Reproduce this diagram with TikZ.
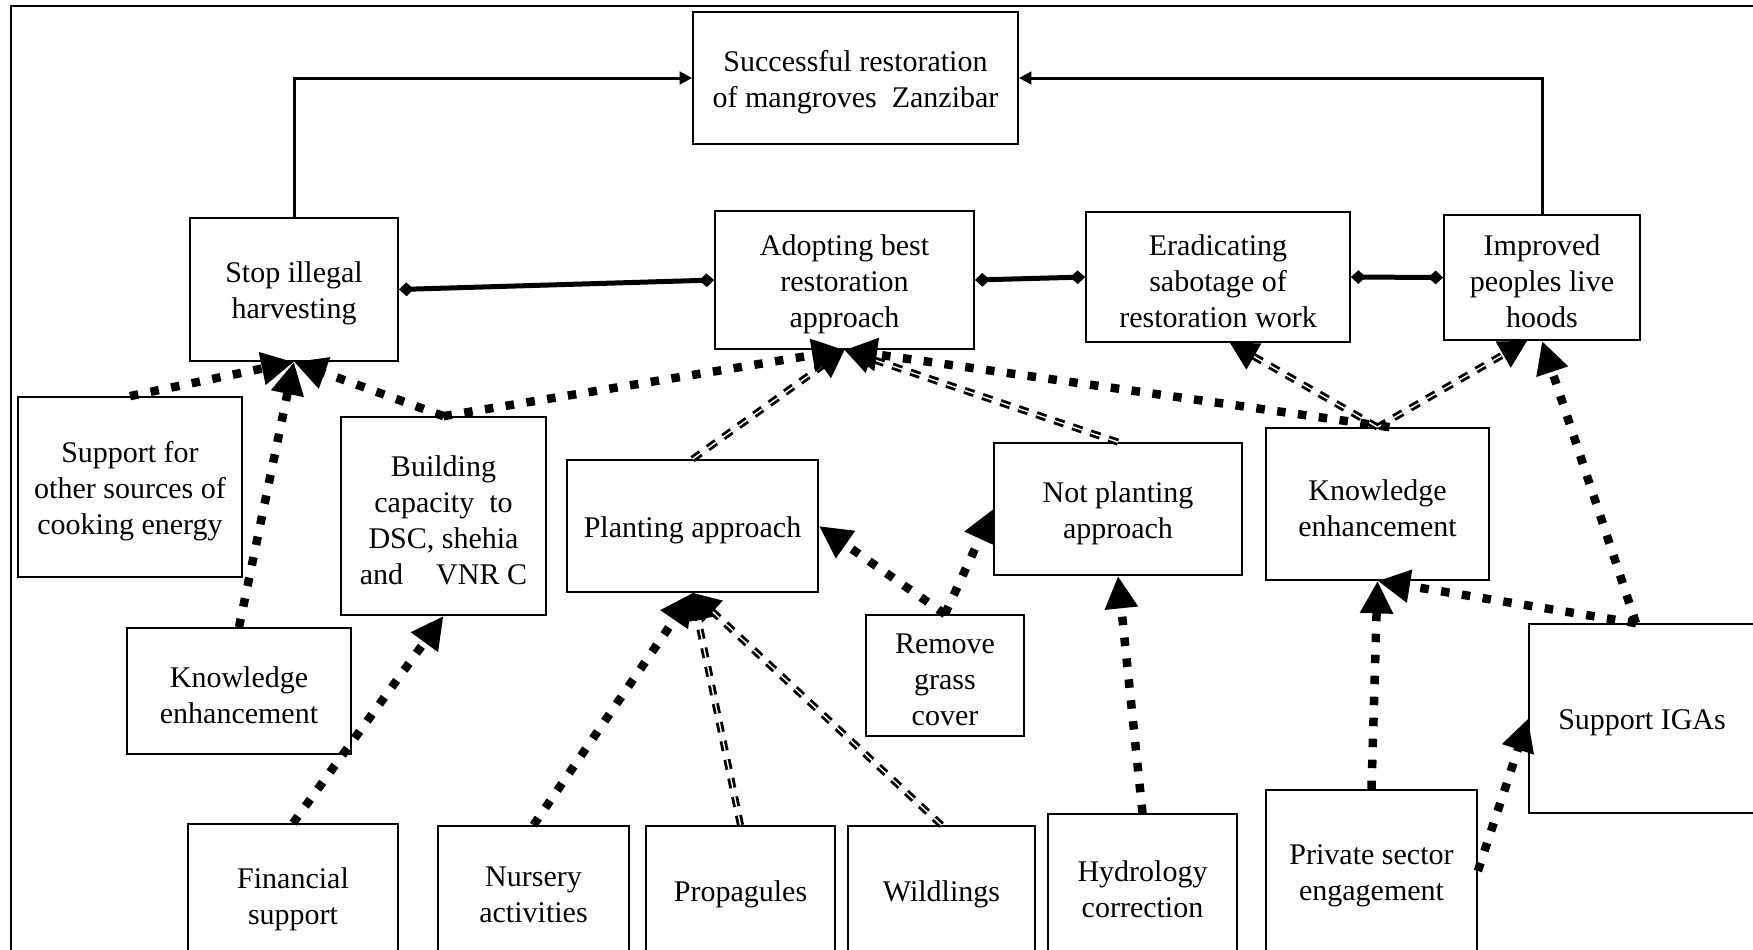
\documentclass[tikz,border=0pt]{standalone}
\usepackage{fontspec}
\setmainfont{Liberation Serif}
\usetikzlibrary{arrows.meta,calc}
\newcommand{\ddarrow}[2]{%
  \draw[dd, shorten >=9pt] (#1) -- (#2);
  \draw[ddtip] ($(#2)!11pt!(#1)$) -- (#2);}
\newcommand{\fl}{\rule{0pt}{11.5pt}}
\begin{document}
\begin{tikzpicture}[x=0.4pt,y=-0.4pt,
  box/.style={draw, line width=0.7pt, fill=white, align=center, inner sep=0pt,
    font=\fontsize{12}{14.4}\selectfont},
  sz/.style 2 args={minimum width=#1*0.4pt, minimum height=#2*0.4pt},
  topline/.style={line width=1.2pt, -{Triangle[length=5pt,width=5pt]}},
  midline/.style={line width=2pt, {Diamond[length=6pt,width=5.5pt]}-{Diamond[length=6pt,width=5.5pt]}},
  td/.style={line width=3.4pt, dash pattern=on 3.4pt off 5pt, -{Triangle[length=13pt,width=12.5pt]}},
  dd/.style={double, double distance=0.55pt, line width=1.15pt, dash pattern=on 4pt off 3.6pt},
  ddtip/.style={line width=0.5pt, -{Triangle[length=11pt,width=12pt]}}]
\useasboundingbox (0,0) rectangle (1753,949);
\clip (0,0) rectangle (1753,949);
\draw[line width=1pt] (11,970) -- (11,6) -- (1770,6);

\node[box, sz={325}{132}] (succ) at (855.5,78) {\fl Successful restoration\\of mangroves\ \ Zanzibar};
\node[box, sz={208}{143}] (stop) at (294,289.5) {\fl Stop illegal\\harvesting};
\node[box, sz={259}{138}] (adopt) at (844.5,280) {\fl Adopting best\\restoration\\approach};
\node[box, sz={264}{130}] (erad) at (1218,277) {\fl Eradicating\\sabotage of\\restoration work};
\node[box, sz={196}{125}] (impr) at (1542,277.5) {\fl Improved\\peoples live\\hoods};
\node[box, sz={224}{180}] (supp) at (130,487) {\fl Support for\\other sources of\\cooking energy};
\node[box, sz={205}{198}] (build) at (443.5,516) {\fl Building\\capacity\ \ to\\DSC, shehia\\and\hspace{1.1em}VNR C};
\node[box, sz={251}{132}] (plant) at (692.5,526) {\fl Planting approach};
\node[box, sz={224}{126}] (know1) at (239,691) {\fl Knowledge\\enhancement};
\node[box, sz={210}{142}] (fin) at (293,895) {\fl Financial\\support};
\node[box, sz={191}{128}] (nurs) at (533.5,890) {\fl Nursery\\activities};
\node[box, sz={189}{128}] (prop) at (740.5,890) {\fl Propagules};
\node[box, sz={187}{128}] (wild) at (941.5,890) {\fl Wildlings};
\node[box, sz={248}{132}] (notp) at (1118,509) {\fl Not planting\\approach};
\node[box, sz={223}{152}] (know2) at (1377.5,504) {\fl Knowledge\\enhancement};
\node[box, sz={158}{121}] (grass) at (945,675.5) {\fl Remove\\grass\\cover};
\node[box, sz={226}{189}] (iga) at (1642,718.5) {\fl Support IGAs};
\node[box, sz={189}{142}] (hydro) at (1142.5,885) {\fl Hydrology\\correction};
\node[box, sz={211}{162}] (priv) at (1371.5,871) {\fl Private sector\\engagement};

\draw[topline] (stop.north) |- (succ.west);
\draw[topline] (impr.north) |- (succ.east);

\draw[midline] (stop.east) -- (adopt.west);
\draw[midline] (adopt.east) -- (erad.west);
\draw[midline] (erad.east) -- (impr.west);

\ddarrow{plant.north}{adopt.south}
\ddarrow{notp.north}{adopt.south}
\ddarrow{prop.north}{plant.south}
\ddarrow{wild.north}{plant.south}
\ddarrow{know2.north}{[xshift=4.8pt]erad.south}
\ddarrow{know2.north}{[xshift=-6pt]impr.south}

\draw[td] (supp.north) -- (stop.south);
\draw[td] (know1.north) -- (stop.south);
\draw[td] (build.north) -- (stop.south);
\draw[td] (build.north) -- (adopt.south);
\draw[td] ([xshift=4.8pt]know2.north) -- (adopt.south);
\draw[td] (fin.north) -- (build.south);
\draw[td] (nurs.north) -- (plant.south);
\draw[td] (grass.north) -- (plant.east);
\draw[td] (grass.north) -- (notp.west);
\draw[td] (hydro.north) -- (notp.south);
\draw[td] (priv.north) -- (know2.south);
\draw[td] ([xshift=-2.4pt]iga.north) -- (know2.south);
\draw[td] ([xshift=-2.4pt]iga.north) -- (impr.south);
\draw[td] (priv.east) -- (iga.west);
\end{tikzpicture}
\end{document}
